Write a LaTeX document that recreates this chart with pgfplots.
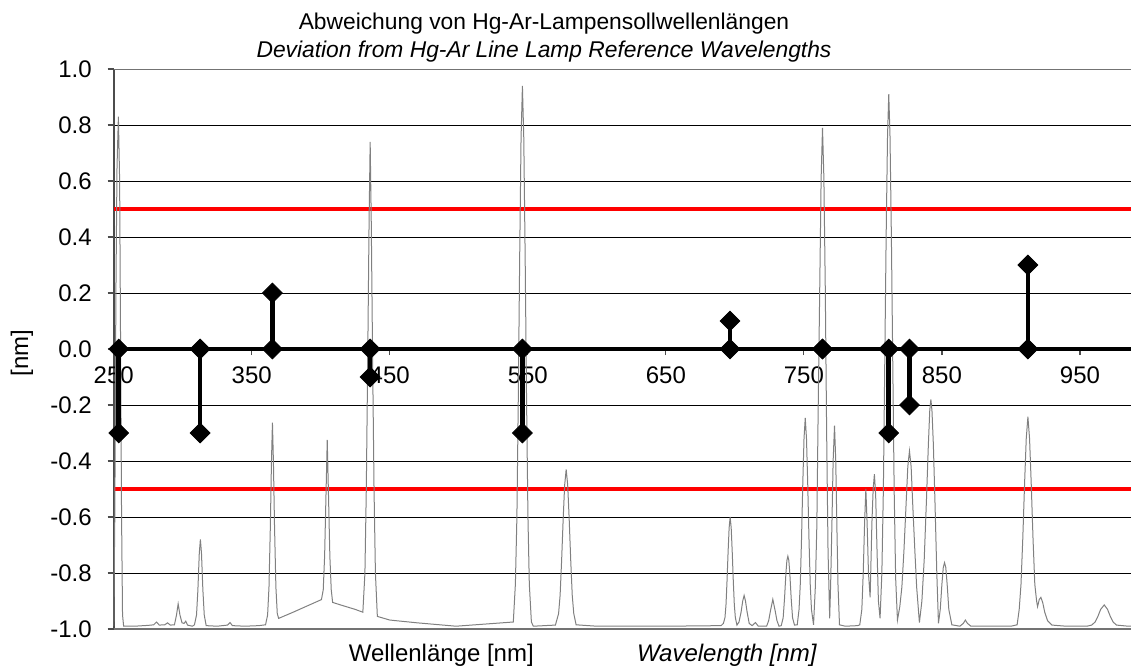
\documentclass[border=0pt]{standalone}
\usepackage{fontspec}
\setmainfont{Liberation Sans}
\usepackage{pgfplots}
\usepackage{pgfplotstable}
\pgfplotsset{compat=1.18}

\pgfplotstableread{
x y
250 -0.99
250.8 -0.60
251.6 0.20
252.4 0.65
253.4 0.83
254.3 0.60
255.0 0.00
255.7 -0.60
256.4 -0.95
257.2 -0.99
265 -0.99
275 -0.987
279 -0.985
281 -0.975
283 -0.986
287 -0.985
289 -0.978
291 -0.986
294 -0.985
295.5 -0.95
296.7 -0.91
298 -0.95
299.5 -0.978
301 -0.98
302.2 -0.972
303.5 -0.986
307 -0.99
308.5 -0.985
310 -0.95
311 -0.86
312 -0.73
312.8 -0.68
313.6 -0.73
314.6 -0.86
315.6 -0.95
317 -0.988
325 -0.99
332.5 -0.986
334.3 -0.977
336 -0.988
345 -0.99
355 -0.988
360 -0.985
361.5 -0.95
362.5 -0.85
363.5 -0.63
364.3 -0.40
365.0 -0.263
365.7 -0.40
366.5 -0.63
367.5 -0.85
368.5 -0.945
369.5 -0.962
380 -0.94
390 -0.918
400.5 -0.895
401.8 -0.86
402.8 -0.74
403.8 -0.52
404.7 -0.325
405.6 -0.52
406.6 -0.74
407.6 -0.86
408.6 -0.905
415 -0.915
425 -0.93
430.5 -0.94
432 -0.80
433 -0.50
434 -0.05
435 0.45
435.8 0.74
436.6 0.45
437.6 -0.05
438.6 -0.50
439.6 -0.80
441 -0.955
450 -0.968
470 -0.978
498 -0.99
539.5 -0.975
541 -0.84
542.1 -0.60
543.1 -0.18
544.1 0.32
545.1 0.75
546.1 0.94
547.1 0.75
548.1 0.32
549.1 -0.18
550.1 -0.60
551.1 -0.84
552.6 -0.975
554 -0.99
570 -0.986
572.3 -0.945
573.4 -0.88
574.5 -0.755
575.6 -0.61
576.7 -0.486
577.8 -0.43
578.9 -0.486
580 -0.61
581.1 -0.755
582.2 -0.88
583.3 -0.945
585 -0.985
600 -0.99
650 -0.99
690 -0.988
691.7 -0.98
692.85 -0.959
693.6 -0.912
694.35 -0.826
695.1 -0.725
695.85 -0.639
696.6 -0.60
697.35 -0.639
698.1 -0.725
698.85 -0.826
699.6 -0.912
700.35 -0.959
701.5 -0.986
703 -0.975
704.5 -0.94
705.7 -0.90
706.7 -0.88
707.7 -0.90
708.9 -0.94
710.4 -0.98
712.5 -0.988
714.9 -0.977
717 -0.99
723 -0.99
724.5 -0.97
725.8 -0.935
727.5 -0.894
729.2 -0.935
730.5 -0.97
732 -0.99
733.6 -0.988
735 -0.96
736 -0.89
737 -0.80
737.7 -0.755
738.4 -0.74
739.1 -0.755
739.8 -0.80
740.8 -0.89
741.8 -0.96
743.2 -0.986
745.2 -0.985
746.5 -0.93
747.4 -0.84
748.3 -0.678
749.2 -0.484
750.1 -0.32
751.0 -0.246
751.9 -0.32
752.8 -0.484
753.7 -0.678
754.6 -0.84
755.5 -0.93
757 -0.985
758.3 -0.85
759.4 -0.63
760.3 -0.24
761.5 0.22
762.5 0.61
763.5 0.79
764.5 0.61
765.5 0.22
766.5 -0.30
767.5 -0.72
768.7 -0.962
769.4 -0.84
770.3 -0.63
771.2 -0.40
772.2 -0.274
773.1 -0.40
773.9 -0.63
774.7 -0.84
775.8 -0.985
780 -0.99
789 -0.988
790.5 -0.985
792 -0.93
793 -0.80
794 -0.62
794.9 -0.50
795.8 -0.62
796.8 -0.80
798 -0.887
799.3 -0.62
800.2 -0.50
801.1 -0.447
802 -0.52
803 -0.72
804 -0.90
805.2 -0.962
806.5 -0.80
807.6 -0.50
808.6 -0.05
809.6 0.40
810.6 0.76
811.5 0.91
812.4 0.76
813.4 0.40
814.4 -0.05
815.4 -0.50
816.5 -0.82
817.8 -0.968
819.5 -0.92
821 -0.85
822.5 -0.72
823.9 -0.57
825.3 -0.42
826.5 -0.364
827.7 -0.42
829 -0.57
830.4 -0.72
831.7 -0.85
833.7 -0.977
835.5 -0.90
837.2 -0.75
838.8 -0.54
840.2 -0.34
841.2 -0.22
842 -0.18
842.8 -0.22
843.8 -0.34
845 -0.55
846.3 -0.80
847.5 -0.98
848.8 -0.93
850 -0.84
851 -0.78
851.9 -0.763
852.8 -0.78
853.8 -0.84
855 -0.93
857.2 -0.985
863 -0.99
865.5 -0.98
867 -0.968
868.5 -0.98
871 -0.99
880 -0.99
900 -0.99
904.5 -0.985
906 -0.93
907.3 -0.84
908.6 -0.676
909.9 -0.48
911.1 -0.32
912.3 -0.242
913.5 -0.32
914.7 -0.48
916 -0.676
917.3 -0.84
918.6 -0.90
919.3 -0.92
920.5 -0.895
921.7 -0.887
923 -0.905
924.5 -0.94
926.5 -0.97
929.7 -0.986
940 -0.99
955 -0.99
958.5 -0.986
961 -0.975
963 -0.955
965 -0.93
967.6 -0.914
970 -0.93
972 -0.955
974 -0.975
976.5 -0.986
985 -0.99
990 -0.99
}\spectrum

\begin{document}
\begin{tikzpicture}[font=\fontsize{12}{14.4}\selectfont]
\path[use as bounding box] (0,0) rectangle (565.5pt,333pt);
\begin{axis}[
  at={(56.85pt,18.5pt)}, anchor=south west,
  width=508.65pt, height=280pt, scale only axis,
  xmin=250, xmax=987, ymin=-1, ymax=1,
  axis x line*=middle, axis y line*=left,
  hide obscured x ticks=false, hide obscured y ticks=false,
  x axis line style={draw=none},
  y axis line style={black!70, line width=0.8pt},
  xtick={250,350,450,550,650,750,850,950},
  ytick={-1,-0.8,-0.6,-0.4,-0.2,0,0.2,0.4,0.6,0.8,1},
  ymajorgrids, major grid style={black, line width=0.5pt},
  tick style={black!70, line width=0.6pt}, major tick length=3pt,
  xtick align=outside, ytick align=outside,
  /pgf/number format/assume math mode=true,
  yticklabel style={xshift=-4.5pt, /pgf/number format/.cd, fixed, fixed zerofill, precision=1},
  xticklabel style={yshift=-2.5pt, /pgf/number format/.cd, fixed, precision=0},
  clip=true,
  stem/.style={black, line width=2.3pt, mark=square*, mark size=3.5pt,
    mark options={rotate=45, solid, fill=black, line width=0.4pt}},
]
\draw[black!55, line width=1pt] (axis cs:250,1) -- (axis cs:1000,1);
\draw[black!55, line width=1pt] (axis cs:250,-1) -- (axis cs:1000,-1);
\addplot[red, line width=2.2pt, forget plot] coordinates {(250,0.5) (1000,0.5)};
\addplot[red, line width=2.2pt, forget plot] coordinates {(250,-0.5) (1000,-0.5)};
\addplot[color={rgb,255:red,128;green,128;blue,128}, line width=0.5pt] table[x=x, y=y] {\spectrum};
\addplot[black, line width=2.3pt] coordinates {(253.65,0) (1000,0)};
\addplot[stem] coordinates {(253.65,0) (253.65,-0.3)};
\addplot[stem] coordinates {(312.57,0) (312.57,-0.3)};
\addplot[stem] coordinates {(365.0,0) (365.0,0.2)};
\addplot[stem] coordinates {(435.8,0) (435.8,-0.1)};
\addplot[stem] coordinates {(546.1,0) (546.1,-0.3)};
\addplot[stem] coordinates {(696.5,0) (696.5,0.1)};
\addplot[stem] coordinates {(763.5,0) (763.5,0)};
\addplot[stem] coordinates {(811.5,0) (811.5,-0.3)};
\addplot[stem] coordinates {(826.5,0) (826.5,-0.2)};
\addplot[stem] coordinates {(912.3,0) (912.3,0.3)};
\end{axis}
\begin{scope}[font=\fontsize{11.4}{13.7}\selectfont]
\node[anchor=base] at (272pt,318.35pt) {Abweichung von Hg-Ar-Lampensollwellenlängen};
\node[anchor=base] at (272pt,304.3pt) {\itshape Deviation from Hg-Ar Line Lamp Reference Wavelengths};
\end{scope}
\node[anchor=base west, inner sep=0pt] at (174.2pt,2.15pt) {Wellenlänge [nm]};
\node[anchor=base west, inner sep=0pt] at (318.3pt,2.15pt) {\itshape Wavelength [nm]};
\node[rotate=90] at (11pt,156.5pt) {[nm]};
\end{tikzpicture}
\end{document}
